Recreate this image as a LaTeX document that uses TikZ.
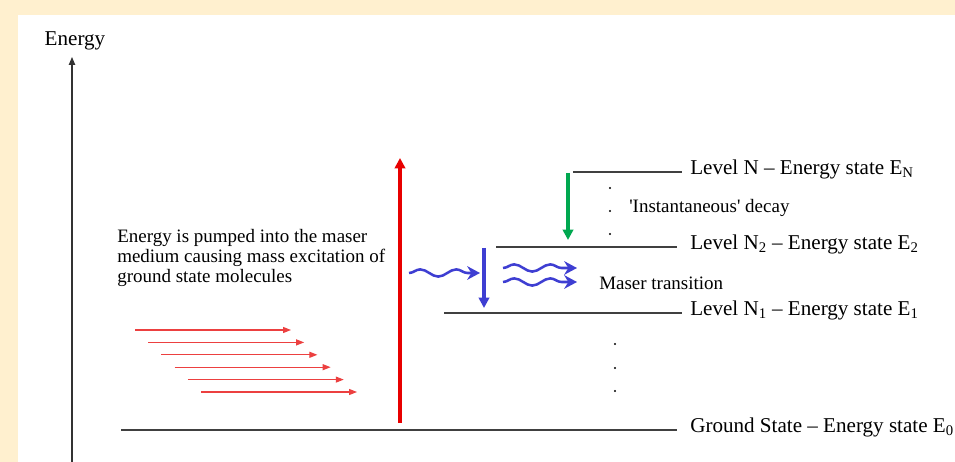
\documentclass[tikz,border=0pt]{standalone}
\usepackage{fontspec}
\setmainfont{Liberation Serif}
\usetikzlibrary{arrows.meta,decorations.pathmorphing}
\definecolor{pagebg}{RGB}{255,240,207}
\definecolor{pumpred}{RGB}{232,0,0}
\definecolor{beamred}{RGB}{236,64,64}
\definecolor{maserblue}{RGB}{62,62,210}
\definecolor{decaygreen}{RGB}{0,168,80}
\begin{document}
\begin{tikzpicture}[every node/.style={font=\fontsize{13.5}{13.9}\selectfont, inner sep=0pt},
  level/.style={draw=black!75, line width=1pt},
  lbl/.style={anchor=base west, font=\fontsize{15}{17}\selectfont},
  tip/.style={-{Triangle[length=2.6mm,width=2.6mm]}},
  wave/.style={maserblue, line width=1.8pt, decorate,
    decoration={snake, amplitude=.9mm, segment length=9mm, post length=3mm},
    -{Stealth[length=3.2mm,width=3.4mm]}}]
  \fill[pagebg] (0,0) rectangle (23.875,11.55);
  \fill[white] (.45,0) rectangle (23.875,11.175);
  \useasboundingbox (0,0) rectangle (23.875,11.55);
  \coordinate (G0) at (3.025,.8);   \coordinate (G1) at (16.925,.8);
  \coordinate (L1a) at (11.1,3.725); \coordinate (L1b) at (17.05,3.725);
  \coordinate (L2a) at (12.4,5.375); \coordinate (L2b) at (16.925,5.375);
  \coordinate (LNa) at (14.325,7.25); \coordinate (LNb) at (17.05,7.25);
  \draw[level] (G0)--(G1);
  \draw[level] (L1a)--(L1b);
  \draw[level] (L2a)--(L2b);
  \draw[level] (LNa)--(LNb);
  \node[lbl] (gnd) at (17.25,.73) {Ground State -- Energy state E\textsubscript{0}};
  \node[lbl] (lev1) at (17.25,3.655) {Level N\textsubscript{1} -- Energy state E\textsubscript{1}};
  \node[lbl] (lev2) at (17.25,5.305) {Level N\textsubscript{2} -- Energy state E\textsubscript{2}};
  \node[lbl] (levN) at (17.25,7.18) {Level N -- Energy state E\textsubscript{N}};
  \node[font=\fontsize{15}{17}\selectfont] (energy) at (1.875,10.54) {Energy};
  \coordinate (E0) at (1.8,0);
  \draw[black!80, line width=.8pt, -{Triangle[length=2mm,width=1.6mm]}] (E0) -- (1.8,10.125);
  \draw[pumpred, line width=2.4pt, -{Triangle[length=2.6mm,width=2.6mm]}] (10,.975) -- (10,7.6);
  \foreach \i in {0,...,5}
    \draw[beamred, line width=.8pt, -{Triangle[length=2mm,width=1.5mm]}] ({3.375+.33*\i},{3.3-.31*\i}) -- ++(3.9,0);
  \draw[decaygreen, line width=2.4pt, tip] (14.2,7.225) -- (14.2,5.55);
  \draw[maserblue, line width=2.4pt, tip] (12.1,5.35) -- (12.1,3.85);
  \draw[wave] (10.225,4.725) -- (12,4.725);
  \draw[wave] (12.575,4.85) -- (14.425,4.85);
  \draw[wave] (12.575,4.5) -- (14.425,4.5);
  \foreach \y in {6.85,6.275,5.7} \fill (15.25,\y) circle (.8pt);
  \foreach \y in {2.95,2.35,1.775} \fill (15.375,\y) circle (.8pt);
  \node[anchor=west] (decay) at (15.725,6.35) {\textquotesingle Instantaneous\textquotesingle{} decay};
  \node[anchor=west] (maser) at (14.975,4.475) {Maser transition};
  \node[anchor=west, align=left] (pump) at (2.925,5.1) {Energy is pumped into the maser\\medium causing mass excitation of\\ground state molecules};
\end{tikzpicture}
\end{document}
